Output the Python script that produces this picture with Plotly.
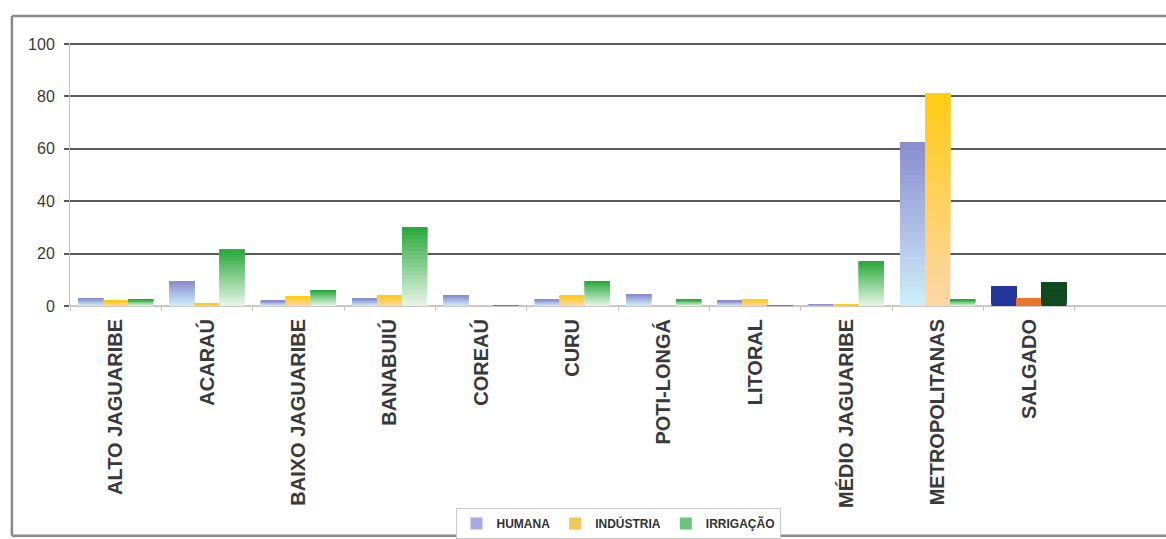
import plotly.graph_objects as go

# Water demand per hydrographic basin (%), by use
categories = ["ALTO JAGUARIBE", "ACARAÚ", "BAIXO JAGUARIBE", "BANABUIÚ", "COREAÚ",
              "CURU", "POTI-LONGÁ", "LITORAL", "MÉDIO JAGUARIBE", "METROPOLITANAS", "SALGADO"]
humana = [3.0, 9.3, 2.0, 2.7, 4.0, 2.5, 4.4, 2.0, 0.6, 62.5, 7.3]
industria = [2.0, 0.8, 3.7, 4.0, 0.3, 4.0, 0.2, 2.5, 0.5, 81.0, 2.7]
irrigacao = [2.5, 21.5, 6.0, 30.0, 0.3, 9.5, 2.5, 0.2, 17.0, 2.4, 9.0]
y_ticks = [0, 20, 40, 60, 80, 100]

# (name, values, gradient bottom colour, gradient top colour, legend swatch, solid colour for SALGADO)
series = [
    ("HUMANA", humana, (205, 238, 250), (138, 140, 206), "#a9a9e2", "#24359b"),
    ("INDÚSTRIA", industria, (253, 214, 170), (255, 204, 18), "#f3c65a", "#e8782e"),
    ("IRRIGAÇÃO", irrigacao, (232, 246, 232), (40, 168, 58), "#6cc47a", "#0f4b1f"),
]
solid_index = categories.index("SALGADO")
N_STEPS = 20


def mix(c0, c1, t):
    r, g, b = (round(a + (b_ - a) * t) for a, b_ in zip(c0, c1))
    return f"rgb({r},{g},{b})"


fig = go.Figure()
for name, vals, c_bot, c_top, swatch, solid in series:
    # each bar is painted as overlapping layers from base to top to form a vertical gradient
    for k in range(N_STEPS):
        frac = k / N_STEPS
        col = mix(c_bot, c_top, (k + 0.5) / N_STEPS)
        colors = [solid if i == solid_index else col for i in range(len(categories))]
        fig.add_trace(go.Bar(
            x=categories,
            y=[v * (1 - frac) for v in vals],
            base=[v * frac for v in vals],
            offsetgroup=name,
            marker=dict(color=colors, line=dict(width=0)),
            showlegend=False,
            hoverinfo="skip",
        ))
    fig.add_trace(go.Bar(
        x=[categories[0]], y=[None], name=name, offsetgroup=name,
        marker=dict(color=swatch, line=dict(width=0)), showlegend=True,
    ))

# outer chart frame: left, top and bottom edges (right side runs past the visible area)
frame = dict(type="line", xref="paper", yref="paper",
             line=dict(color="#8a8a8a", width=2.5), layer="below")
fig.add_shape(x0=-0.053, x1=-0.053, y0=-0.874, y1=1.103, **frame)
fig.add_shape(x0=-0.053, x1=1.0, y0=1.103, y1=1.103, **frame)
fig.add_shape(x0=-0.053, x1=1.0, y0=-0.874, y1=-0.874, **frame)

fig.update_layout(
    width=1166, height=539,
    margin=dict(l=70, r=0, t=43, b=232),
    paper_bgcolor="white", plot_bgcolor="white",
    barmode="group", bargap=0.18, bargroupgap=0,
    font=dict(family="Liberation Sans, Arial, sans-serif", color="#3a3a3a"),
    legend=dict(orientation="h", x=0.5, xanchor="center", y=-0.826, yanchor="middle",
                bordercolor="#c8c8c8", borderwidth=1, bgcolor="white",
                font=dict(size=12, color="#333333", weight="bold"), itemwidth=30,
                tracegroupgap=0),
    xaxis=dict(
        range=[-0.5, 11.5], tickangle=-90, showgrid=False,
        ticks="outside", ticklen=4, tickcolor="#c8c0c0", tickson="boundaries",
        showline=False, ticklabelstandoff=8,
        tickfont=dict(size=20, color="#3a3a3a", family="Liberation Sans, Arial, sans-serif",
                      weight="bold"),
    ),
    yaxis=dict(
        range=[0, 100.4], tickvals=y_ticks, showgrid=True, gridcolor="#5a5a5a", gridwidth=2,
        zeroline=True, zerolinecolor="#cfc6c6", zerolinewidth=1.5,
        showline=True, linecolor="#c4c4c4", linewidth=1,
        ticks="outside", ticklen=5, tickcolor="#5a5a5a", tickwidth=2,
        ticklabelstandoff=6,
        tickfont=dict(size=16, color="#3a3a3a"),
    ),
)

fig.write_html("out.html")
